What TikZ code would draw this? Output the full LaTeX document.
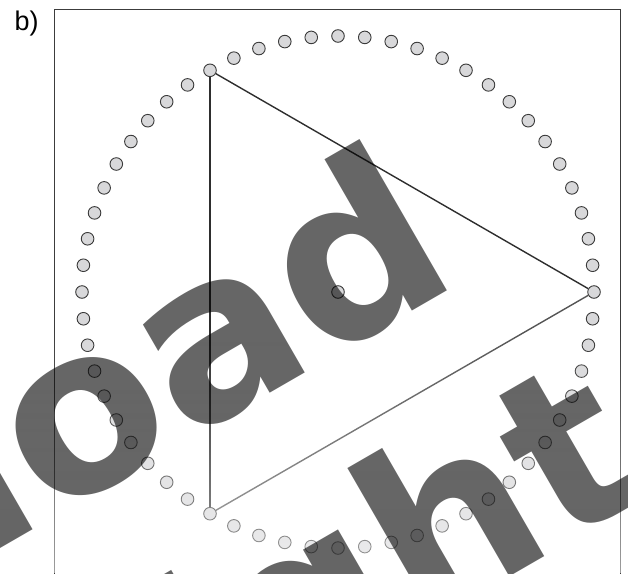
\documentclass[tikz,border=0pt]{standalone}
\usepackage{fontspec}
\setmainfont{Liberation Sans}
\newfontfamily\wmfont{DejaVu Sans}
\usetikzlibrary{fadings}
\definecolor{dotline}{HTML}{3A3A3A}
\definecolor{dotfill}{HTML}{D8D8DA}
\definecolor{triline}{HTML}{2E2E2E}
\definecolor{triline2}{HTML}{555555}
\definecolor{frameline}{HTML}{3C3C3C}
\tikzfading[name=fadedown, top color=transparent!100, bottom color=transparent!50]
\begin{document}
\begin{tikzpicture}[x=1pt,y=-1pt,
  dot/.style={circle, draw=dotline, fill=dotfill, line width=0.9pt, minimum size=12.6pt, inner sep=0pt},
  tri/.style={draw=triline, line width=1.4pt},
  framebox/.style={draw=frameline, line width=0.9pt},
  wm/.style={inner sep=0pt, text=black, text opacity=0.6, font=\wmfont\bfseries\fontsize{230}{230}\selectfont, rotate=30, anchor=base west},
  lbl/.style={inner sep=0pt, font=\fontsize{27}{27}\selectfont, anchor=base west}]
\clip (0,0) rectangle (628,573);
\node[lbl] (b) at (14.5,30) {b)};
\draw[framebox] (54.5,9.5) rectangle (620.5,600);
\coordinate (c) at (338,292);
\foreach \i in {0,...,59} \path (c) ++(6*\i:256) node[dot] (d\i) {};
\node[dot] (m) at (c) {};
\draw[tri] (d40) -- (d0);
\draw[tri, draw=triline2] (d0) -- (d20);
\draw[tri] (d20) -- (d40);
\fill[white, path fading=fadedown] (0,330) rectangle (628,573);
\node[wm] (w1) at (-18.7,559.6) {load};
\node[wm] (w2) at (109,808) {right};
\end{tikzpicture}
\end{document}
